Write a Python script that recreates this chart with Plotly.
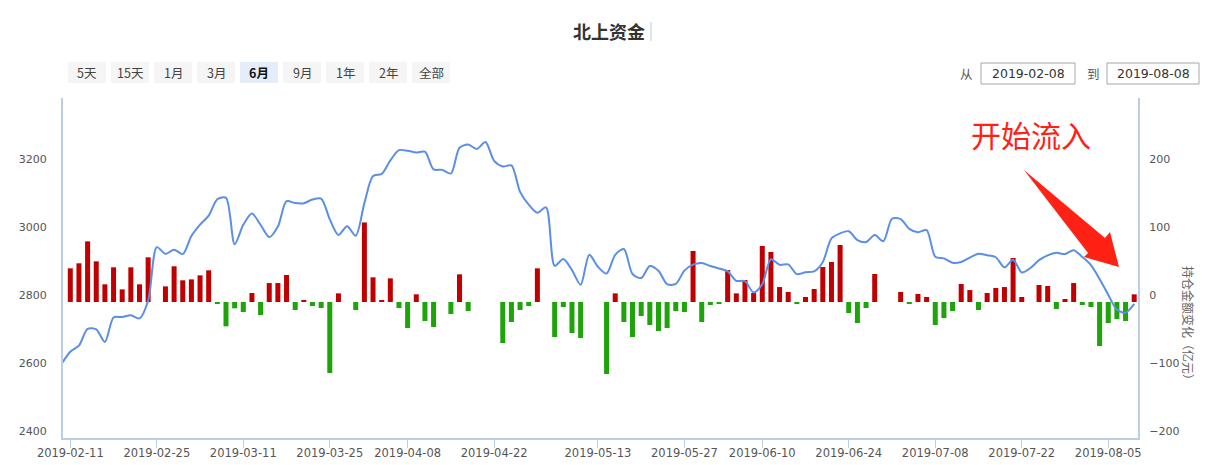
import plotly.graph_objects as go

# ---------------- data ----------------
trade_days = {
    "2019-02": [1, 11, 12, 13, 14, 15, 18, 19, 20, 21, 22, 25, 26, 27, 28],
    "2019-03": [1, 4, 5, 6, 7, 8, 11, 12, 13, 14, 15, 18, 19, 20, 21, 22, 25, 26, 27, 28, 29],
    "2019-04": [1, 2, 3, 4, 8, 9, 10, 11, 12, 15, 16, 17, 18, 19, 22, 23, 24, 25, 26, 29, 30],
    "2019-05": [6, 7, 8, 9, 10, 13, 14, 15, 16, 17, 20, 21, 22, 23, 24, 27, 28, 29, 30, 31],
    "2019-06": [3, 4, 5, 6, 10, 11, 12, 13, 14, 17, 18, 19, 20, 21, 24, 25, 26, 27, 28],
    "2019-07": [1, 2, 3, 4, 5, 8, 9, 10, 11, 12, 15, 16, 17, 18, 19, 22, 23, 24, 25, 26, 29, 30, 31],
    "2019-08": [1, 2, 5, 6, 7, 8],
}
dates = [f"{m}-{d:02d}" for m, days in trade_days.items() for d in days]

# index level (left axis)
index_close = [
    2618.23, 2653.90, 2671.89, 2721.07, 2719.70, 2682.39, 2754.36, 2755.65, 2761.22, 2751.80, 2804.23,
    2961.28, 2941.52, 2953.82, 2940.95,
    2994.01, 3027.58, 3054.25, 3102.10, 3106.42, 2969.86, 3026.99, 3060.31, 3026.95, 2990.69, 3021.75,
    3096.42, 3090.98, 3090.64, 3101.46, 3104.15, 3043.03, 2997.10, 3022.72, 2994.94, 3090.76,
    3170.36, 3176.82, 3216.30, 3246.57, 3244.81, 3239.66, 3241.93, 3189.96, 3188.63, 3177.79, 3253.60,
    3263.12, 3250.20, 3270.80, 3215.04, 3198.59, 3201.61, 3123.83, 3086.40, 3062.50, 3078.34,
    2906.46, 2926.39, 2893.76, 2850.95, 2939.21, 2903.71, 2883.61, 2938.68, 2955.71, 2882.30, 2870.60,
    2905.97, 2891.70, 2852.52, 2852.99, 2892.38, 2909.91, 2914.70, 2905.81, 2898.70,
    2890.08, 2862.28, 2861.42, 2827.80, 2852.13, 2925.72, 2909.38, 2910.74, 2881.97, 2887.62, 2890.16,
    2917.80, 2987.12, 3001.98, 3008.15, 2982.07, 2976.28, 2996.79, 2978.88,
    3044.90, 3043.94, 3015.26, 3005.25, 3011.06, 2933.36, 2928.23, 2915.30, 2917.76, 2930.55, 2942.19,
    2937.62, 2931.69, 2901.95, 2924.20, 2886.97, 2899.94, 2923.28, 2937.36, 2944.54, 2941.01, 2952.34,
    2932.51,
    2908.77, 2867.84, 2821.50, 2777.56, 2768.68, 2794.55,
]

# daily change of holdings, 亿元 (right axis); None = no data
flow = [
    None,
    49.5, 56.9, 89.2, 59.8, 26, 51, 18.6, 51, 26, 65.7,
    None, 23, 52.5, 31.9, 33.3, 39.2, 46.6, -1.5, -35.8, -9.3,
    -14.7, 13.2, -19.1, 27.9, 27.9, 39.7, -11.8, 2.5, -5.9, -8.8,
    -104.4, 12.7, None, -11.8, 117, 36.3, 2.5, 34.8, -8.8, -38.2,
    11.3, -27.9, -36.8, None, -17.6, 40.7, -13.2, None, None, None,
    -60.3, -29.4, -11.8, -5.9, 49.5, None, -51.5, -7.4, -45.6, -52.9,
    None, None, -105.9, 12.7, -29.4, -51.5, -20.6, -33.8, -42.6, -38.2,
    -13.2, -14.7, 75, -29.4, -4.4, -2.9, 47, 12.7, 32.4, 13.2,
    82.4, 73.5, 22, 14.7, -2.9, 7.4, 19.1, 51.5, 58.8, 83.8,
    -16.2, -30.9, -8.8, 41.2, None, None, 14.7, -1.5, 11.8, 7.4,
    -33.8, -23.5, -13.2, 26.5, 17.6, -11.8, 13.2, 20.6, 22, 64.7,
    7.4, None, 25, 23.5, -10.3, 4.4, 27.9, -4.4, -7.4, -64.7,
    -30.9, -25, -27.9, 11.3,
]

tick_dates = ["2019-02-11", "2019-02-25", "2019-03-11", "2019-03-25", "2019-04-08", "2019-04-22",
              "2019-05-13", "2019-05-27", "2019-06-10", "2019-06-24", "2019-07-08", "2019-07-22",
              "2019-08-05"]
left_ticks = [2400, 2600, 2800, 3000, 3200]
right_ticks = [-200, -100, 0, 100, 200]
buttons = ["5天", "15天", "1月", "3月", "6月", "9月", "1年", "2年", "全部"]
active_button = "6月"
date_from, date_to = "2019-02-08", "2019-08-08"

# ---------------- style ----------------
W, H = 1206, 465
L, R, T, B = 63, 1138, 98, 438
AXIS = "#bccde6"
RED, GREEN, BLUE = "#c00000", "#1fa30b", "#5b8ee6"
NUM_FONT = "DejaVu Sans"
CJK = "Noto Sans CJK SC"


def PX(x):
    return (x - L) / (R - L)


def PY(y):
    return (B - y) / (B - T)


def label(text, x, y, **kw):
    d = dict(text=text, x=PX(x), y=PY(y), xref="paper", yref="paper", showarrow=False,
             xanchor="center", yanchor="middle")
    d.update(kw)
    return d


bar_colors = [RED if (v is not None and v >= 0) else GREEN for v in flow]

fig = go.Figure()
fig.add_trace(go.Bar(x=dates, y=flow, marker=dict(color=bar_colors, line=dict(width=0)),
                     yaxis="y", hoverinfo="x+y"))
fig.add_trace(go.Scatter(x=dates, y=index_close, mode="lines", yaxis="y2",
                         line=dict(color=BLUE, width=2, shape="spline", smoothing=0.8)))

shapes = []
annotations = []

# title + caret line
annotations.append(label("<b>北上资金</b>", 609, 31, font=dict(family=CJK, size=18, color="#333")))
shapes.append(dict(type="line", xref="paper", yref="paper", x0=PX(651), x1=PX(651),
                   y0=PY(22), y1=PY(41), line=dict(color="#b8cbe8", width=1)))

# range buttons
for k, lab in enumerate(buttons):
    x0 = 68 + 43 * k
    active = lab == active_button
    shapes.append(dict(type="rect", xref="paper", yref="paper", x0=PX(x0), x1=PX(x0 + 38),
                       y0=PY(62), y1=PY(83), line=dict(width=0),
                       fillcolor="#e4edf9" if active else "#f5f5f5", layer="below"))
    annotations.append(label(f"<b>{lab}</b>" if active else lab, x0 + 19, 72.5,
                             font=dict(family=CJK, size=12.5, color="#111" if active else "#444")))

# date range boxes
for lab, lx, bx0, bx1, val in [("从", 966, 981, 1075, date_from), ("到", 1093, 1107, 1199, date_to)]:
    annotations.append(label(lab, lx, 73, font=dict(family=CJK, size=12.5, color="#555")))
    shapes.append(dict(type="rect", xref="paper", yref="paper", x0=PX(bx0), x1=PX(bx1),
                       y0=PY(63), y1=PY(84), line=dict(color="#a8a8a8", width=1),
                       fillcolor="white"))
    annotations.append(label(val, (bx0 + bx1) / 2, 73.5,
                             font=dict(family=NUM_FONT, size=12.5, color="#333")))

# right axis title
annotations.append(label("持仓金额变化（亿元）", 1189, 326, textangle=90,
                         font=dict(family=CJK, size=12, color="#666")))

# callout
annotations.append(label("开始流入", 1031, 134, font=dict(family=CJK, size=30, color="#ff2214")))
pts = [(1024, 170), (1105, 238), (1110, 232), (1119, 267), (1084, 257), (1088, 253)]
path = "M " + " L ".join(f"{PX(x):.5f},{PY(y):.5f}" for x, y in pts) + " Z"
shapes.append(dict(type="path", xref="paper", yref="paper", path=path,
                   fillcolor="#ff2214", line=dict(width=0), layer="above"))

fig.update_layout(
    width=W, height=H,
    margin=dict(l=L, r=W - R, t=T, b=H - B, pad=0, autoexpand=False),
    plot_bgcolor="white", paper_bgcolor="white",
    showlegend=False, bargap=0.42,
    shapes=shapes, annotations=annotations,
    xaxis=dict(type="category", categoryorder="array", categoryarray=dates, automargin=False,
               range=[0.156, 124.44], tickmode="array", tickvals=tick_dates, ticktext=tick_dates,
               ticks="outside", ticklen=8, tickwidth=1, tickcolor=AXIS, ticklabelstandoff=-5,
               showline=True, linecolor=AXIS, linewidth=2, showgrid=False, zeroline=False,
               tickfont=dict(family=NUM_FONT, size=11.5, color="#555")),
    yaxis=dict(side="right", range=[-200, 300], tickmode="array", tickvals=right_ticks,
               automargin=False,
               showline=True, linecolor=AXIS, linewidth=2, showgrid=False, zeroline=False,
               ticks="", ticklabelstandoff=7, ticklabelshift=-7,
               tickfont=dict(family=NUM_FONT, size=11, color="#555")),
    yaxis2=dict(side="left", overlaying="y", range=[2400, 3400], tickmode="array",
                tickvals=left_ticks, automargin=False, showline=True, linecolor=AXIS, linewidth=2,
                showgrid=False, zeroline=False, ticks="", ticklabelstandoff=12, ticklabelshift=-7,
                tickfont=dict(family=NUM_FONT, size=11, color="#555")),
)

fig.write_html("out.html", config={"displayModeBar": False},
               post_script="document.body.style.margin='0';")
